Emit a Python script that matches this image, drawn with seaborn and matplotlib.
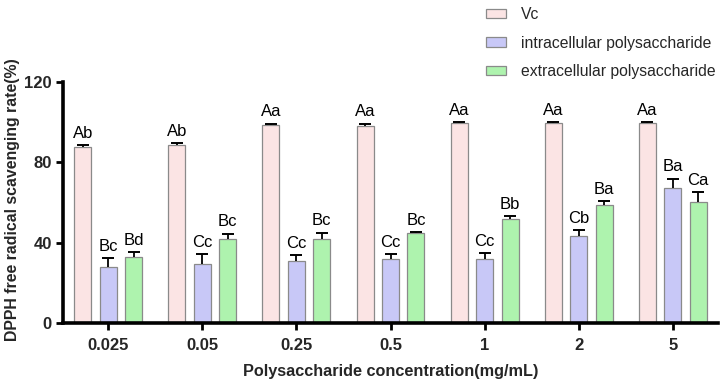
import matplotlib
matplotlib.use("Agg")
import matplotlib.pyplot as plt
import seaborn as sns
import pandas as pd
import numpy as np

concentrations = ["0.025", "0.05", "0.25", "0.5", "1", "2", "5"]
series_names = ["Vc", "intracellular polysaccharide", "extracellular polysaccharide"]
vc_values = [87.6, 88.6, 98.8, 98.0, 99.5, 99.4, 99.5]
vc_err = [1.0, 1.0, 0.5, 1.3, 0.7, 0.6, 0.6]
intra_values = [27.9, 29.2, 30.9, 31.7, 31.7, 43.2, 67.4]
intra_err = [4.3, 5.0, 3.0, 2.8, 3.2, 2.9, 4.5]
extra_values = [33.0, 41.8, 41.7, 44.7, 51.6, 58.6, 60.1]
extra_err = [2.5, 2.7, 3.3, 0.6, 1.7, 2.0, 5.0]
vc_letters = ["Ab", "Ab", "Aa", "Aa", "Aa", "Aa", "Aa"]
intra_letters = ["Bc", "Cc", "Cc", "Cc", "Cc", "Cb", "Ba"]
extra_letters = ["Bd", "Bc", "Bc", "Bc", "Bb", "Ba", "Ca"]
colors = ["#FFE0E0", "#C0C0FF", "#A2FFA2"]

sns.set_style("ticks")
plt.rcParams["font.family"] = ["Liberation Sans", "DejaVu Sans"]

rows = []
for name, vals in zip(series_names, [vc_values, intra_values, extra_values]):
    for c, v in zip(concentrations, vals):
        rows.append({"conc": c, "series": name, "value": v})
df = pd.DataFrame(rows)

fig = plt.figure(figsize=(7.22, 3.84), dpi=100)
ax = fig.add_axes([63 / 722, 1 - 323 / 384, (718 - 63) / 722, (323 - 82) / 384])

sns.barplot(data=df, x="conc", y="value", hue="series", order=concentrations,
            hue_order=series_names, palette=colors, width=0.81, gap=0.33,
            edgecolor="#8a8a8a", linewidth=0.9, errorbar=None, ax=ax, legend=True)

# error bars (upper only) and letters
err_by_series = [vc_err, intra_err, extra_err]
let_by_series = [vc_letters, intra_letters, extra_letters]
bars = [p for p in ax.patches if p.get_height() > 0]
bars = sorted(bars, key=lambda p: p.get_x())
flat_err = []
flat_let = []
for i in range(len(concentrations)):
    for s in range(3):
        flat_err.append(err_by_series[s][i])
        flat_let.append(let_by_series[s][i])
for p, e, lab in zip(bars, flat_err, flat_let):
    xc = p.get_x() + p.get_width() / 2
    h = p.get_height()
    ax.plot([xc, xc], [h, h + e], color="black", lw=1.3, zorder=3,
            solid_capstyle="butt")
    ax.plot([xc], [h + e], marker="_", markersize=8, mew=1.4, color="black",
            zorder=3)
    ax.annotate(lab, (xc, h + e), xytext=(0, 3), textcoords="offset points",
                ha="center", va="bottom", fontsize=12, color="black")

ax.set_xlim(-0.48, 6.48)
ax.set_ylim(0, 120)
ax.set_yticks([0, 40, 80, 120])
ax.set_xlabel("Polysaccharide concentration(mg/mL)", fontsize=11.7,
              fontweight="bold", labelpad=8)
ax.set_ylabel("DPPH free radical scavenging rate(%)", fontsize=11.4,
              fontweight="bold")
ax.yaxis.set_label_coords(-0.066, 0.51)
for lab in ax.get_xticklabels() + ax.get_yticklabels():
    lab.set_fontweight("bold")
    lab.set_fontsize(12)
ax.tick_params(axis="both", width=2, length=5, color="black", pad=3)
ax.tick_params(axis="x", pad=6)
sns.despine(ax=ax)
for sp in ["left", "bottom"]:
    ax.spines[sp].set_linewidth(2.6)
    ax.spines[sp].set_color("black")

handles, labels = ax.get_legend_handles_labels()
ax.get_legend().remove()
fig.legend(handles, labels, loc="upper left",
           bbox_to_anchor=(486 / 722, 1 - 7 / 384), frameon=False,
           fontsize=11.3, handlelength=1.3, handleheight=0.55,
           handletextpad=0.9, labelspacing=0.87, borderpad=0, borderaxespad=0)

fig.savefig("out.png", dpi=100)
